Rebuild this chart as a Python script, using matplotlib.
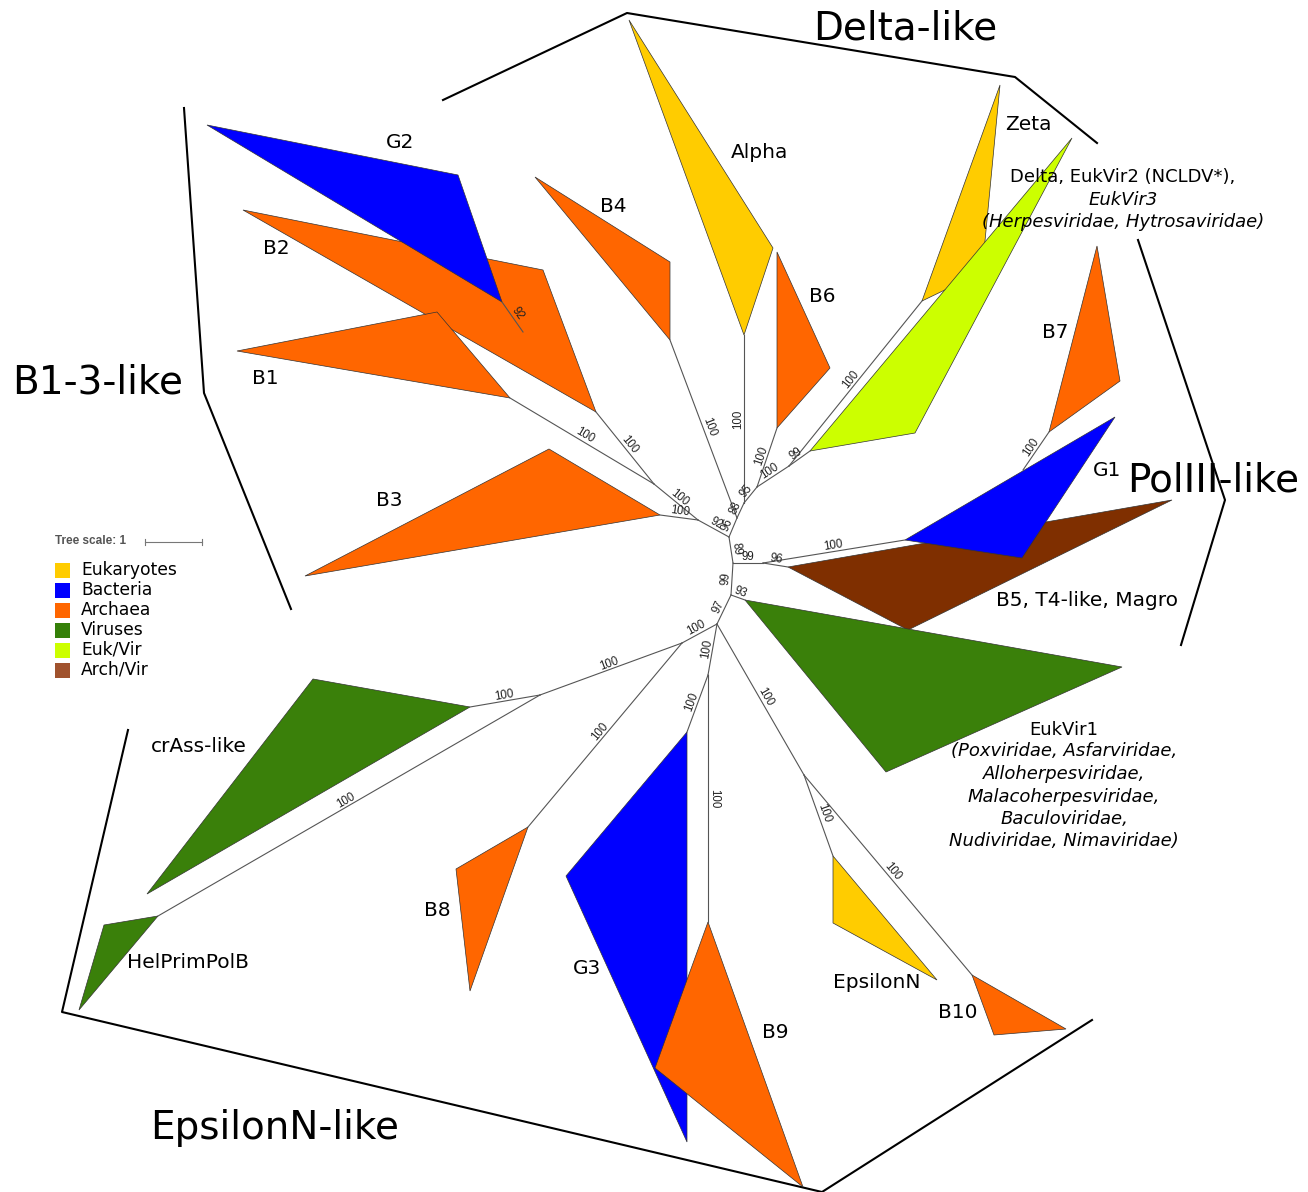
import matplotlib
matplotlib.use("Agg")
import matplotlib.pyplot as plt
from matplotlib.patches import Polygon
import numpy as np

W, H = 1308, 1192

# legend categories
category_names = ["Eukaryotes", "Bacteria", "Archaea", "Viruses", "Euk/Vir", "Arch/Vir"]
category_colors = ["#ffcc00", "#0000ff", "#ff6600", "#358008", "#ccff00", "#a0522d"]

# unrooted tree layout (node positions, px)
node_xy = {
    "A": (729, 537), "J": (698, 520), "K": (654, 484), "g2n": (523, 332),
    "N1": (737, 518), "N2": (744, 503), "N3": (757, 487), "N4": (789, 466),
    "B": (733, 563), "C": (763, 563), "b7n": (1023, 470),
    "D": (731, 595), "E": (717, 624), "F": (682, 643), "I": (540, 695),
    "G": (708, 675), "Hn": (804, 775),
}

# collapsed clades: first vertex is the tip of the branch
clade_names = ["B2", "G2", "B1", "B3", "B4", "Alpha", "B6", "Zeta", "Delta",
               "B7", "B5", "G1", "EukVir1", "EpsilonN", "B10", "G3", "B9",
               "B8", "crAss", "HelPrimPolB"]
clade_fill = ["#ff6600", "#0000ff", "#ff6600", "#ff6600", "#ff6600", "#ffcc00",
              "#ff6600", "#ffcc00", "#ccff00", "#ff6600", "#7f2f00", "#0000ff",
              "#3a800a", "#ffcc00", "#ff6600", "#0000ff", "#ff6600", "#ff6600",
              "#3a800a", "#3a800a"]
clade_shape = [
    [(596, 412), (243, 210), (543, 270)],
    [(502, 302), (207, 125), (458, 175)],
    [(510, 398), (237, 351), (437, 312)],
    [(660, 515), (305, 576), (549, 449)],
    [(670, 340), (535, 177), (670, 262)],
    [(744, 335), (629, 20), (773, 248)],
    [(777, 428), (777, 252), (830, 368)],
    [(922, 301), (1000, 85), (982, 272)],
    [(810, 451), (1072, 138), (915, 433)],
    [(1049, 432), (1097, 246), (1120, 381)],
    [(788, 567), (1172, 500), (908, 630)],
    [(905, 540), (1115, 417), (1022, 558)],
    [(745, 600), (1122, 667), (886, 772)],
    [(833, 856), (833, 923), (937, 980)],
    [(972, 975), (1066, 1029), (994, 1035)],
    [(687, 732), (566, 876), (687, 1142)],
    [(708, 922), (655, 1068), (803, 1187)],
    [(528, 827), (456, 869), (470, 991)],
    [(470, 707), (313, 679), (147, 894)],
    [(158, 916), (104, 925), (79, 1010)],
]
for name, shape in zip(clade_names, clade_shape):
    node_xy[name] = shape[0]

# branches: parent, child, bootstrap support
edges = [
    ("A", "J", "92"), ("J", "B3", "100"), ("J", "K", "100"),
    ("K", "B1", "100"), ("K", "B2", "100"), ("g2n", "G2", "92"),
    ("A", "N1", "96"), ("N1", "B4", "100"), ("N1", "N2", "88"),
    ("N2", "Alpha", "100"), ("N2", "N3", "95"), ("N3", "B6", "100"),
    ("N3", "N4", "100"), ("N4", "Delta", "99"), ("N4", "Zeta", "100"),
    ("A", "B", "89"), ("B", "C", "99"), ("C", "B5", "96"), ("C", "G1", "100"),
    ("b7n", "B7", "100"), ("B", "D", "99"), ("D", "EukVir1", "93"),
    ("D", "E", "97"), ("E", "F", "100"), ("F", "I", "100"),
    ("I", "crAss", "100"), ("I", "HelPrimPolB", "100"), ("F", "B8", "100"),
    ("E", "G", "100"), ("G", "G3", "100"), ("G", "B9", "100"),
    ("E", "Hn", "100"), ("Hn", "EpsilonN", "100"), ("Hn", "B10", "100"),
]

# group brackets
bracket_lines = [
    [(443, 100), (627, 13), (1015, 77), (1097, 143)],
    [(184, 108), (204, 393), (291, 609)],
    [(1138, 240), (1225, 500), (1181, 645)],
    [(128, 730), (62, 1012), (822, 1192), (1092, 1020)],
]
group_labels = ["Delta-like", "B1-3-like", "PolIII-like", "EpsilonN-like"]
group_label_xy = [(905, 28), (98, 383), (1213, 480), (275, 1128)]

clade_labels = ["G2", "B2", "B1", "B3", "B4", "Alpha", "B6", "Zeta", "B7", "G1",
                "B5, T4-like, Magro", "EukVir1", "crAss-like", "HelPrimPolB",
                "B8", "G3", "B9", "EpsilonN", "B10", "Delta, EukVir2 (NCLDV*),"]
clade_label_xy = [(400, 143), (276, 248), (265, 378), (389, 500), (613, 206),
                  (760, 153), (822, 297), (1028, 125), (1055, 333), (1107, 470),
                  (1087, 601), (1064, 730), (199, 747), (188, 963),
                  (437, 910), (587, 968), (775, 1032), (877, 983), (958, 1013),
                  (1123, 177)]
italic_lines = ["EukVir3", "(Herpesviridae, Hytrosaviridae)",
                "(Poxviridae, Asfarviridae,", "Alloherpesviridae,",
                "Malacoherpesviridae,", "Baculoviridae,",
                "Nudiviridae, Nimaviridae)"]
italic_xy = [(1123, 200), (1123, 222), (1064, 751), (1064, 774), (1064, 797),
             (1064, 819), (1064, 841)]

fig = plt.figure(figsize=(W / 100, H / 100), dpi=100)
ax = fig.add_axes([0, 0, 1, 1])
ax.set_xlim(0, W)
ax.set_ylim(H, 0)
ax.axis("off")

for shape, color in zip(clade_shape, clade_fill):
    ax.add_patch(Polygon(shape, closed=True, facecolor=color,
                         edgecolor="#333333", lw=0.5, zorder=2))

for parent, child, support in edges:
    (x0, y0), (x1, y1) = node_xy[parent], node_xy[child]
    ax.plot([x0, x1], [y0, y1], color="#555555", lw=0.8, zorder=3)
    ang = np.degrees(np.arctan2(-(y1 - y0), x1 - x0))
    if ang > 90:
        ang -= 180
    elif ang < -90:
        ang += 180
    ax.text((x0 + x1) / 2, (y0 + y1) / 2, support, fontsize=8.3,
            family="Liberation Sans", color="#222222", rotation=ang,
            rotation_mode="anchor", ha="center", va="bottom", zorder=4)

for pts in bracket_lines:
    xs, ys = zip(*pts)
    ax.plot(xs, ys, color="black", lw=1.5, zorder=1)

for text, (x, y) in zip(group_labels, group_label_xy):
    ax.text(x, y, text, fontsize=28, ha="center", va="center", zorder=5)

for text, (x, y) in zip(clade_labels, clade_label_xy):
    size = 13 if text.startswith("Delta") or text == "EukVir1" else 14.5
    ax.text(x, y, text, fontsize=size, ha="center", va="center", zorder=5)

for text, (x, y) in zip(italic_lines, italic_xy):
    ax.text(x, y, text, fontsize=13, style="italic", ha="center", va="center",
            zorder=5)

# tree scale and legend
ax.text(55, 541, "Tree scale: 1", fontsize=8.5, weight="bold",
        family="Liberation Sans", color="#555555", va="center")
ax.plot([145, 202], [542, 542], color="#777777", lw=0.8)
ax.plot([145, 145], [539, 545], color="#777777", lw=0.8)
ax.plot([202, 202], [539, 545], color="#777777", lw=0.8)
for i, (name, color) in enumerate(zip(category_names, category_colors)):
    y = 570 + i * 20
    ax.add_patch(plt.Rectangle((55, y - 7.5), 15, 15, facecolor=color,
                               edgecolor="none"))
    ax.text(81, y, name, fontsize=12.3, va="center")

fig.savefig("out.png", dpi=100)
